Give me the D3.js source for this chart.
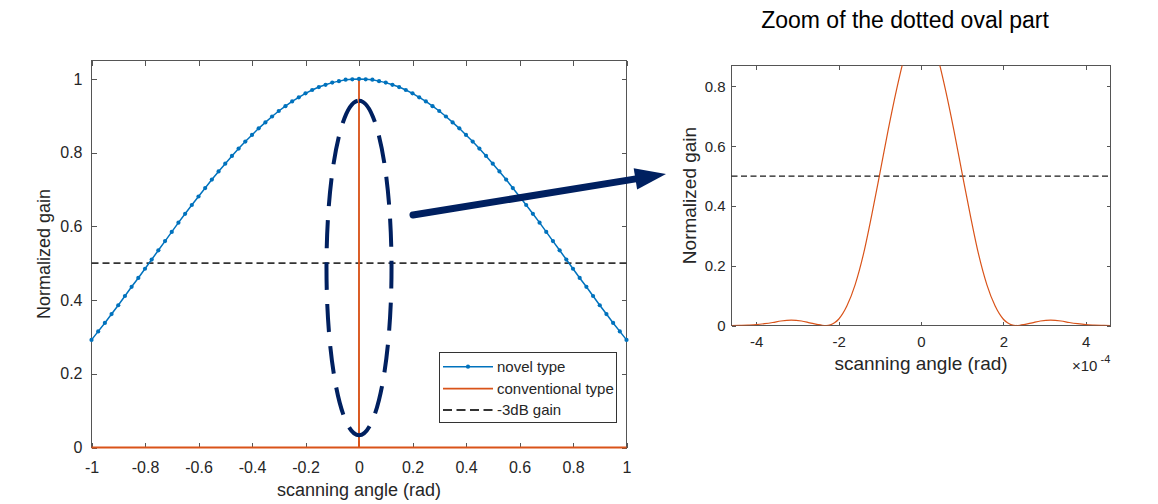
<!DOCTYPE html>
<html><head><meta charset="utf-8">
<script src="https://cdn.jsdelivr.net/npm/d3@7"></script>
<style>
body{margin:0;background:#fff;}
svg{display:block;font-family:"Liberation Sans",Arial,Helvetica,sans-serif;}
</style></head><body>
<svg id="chart" width="1158" height="504"></svg>
<script>
// ---------------- data ----------------
const novelAngle = d3.range(81).map(i => -1 + i * 0.025); // rad, sampling grid of the markers
const novelGain = [
  0.292,0.315,0.338,0.362,0.386,0.411,0.436,0.460,0.485,0.510,
  0.535,0.560,0.585,0.610,0.634,0.658,0.681,0.704,0.727,0.749,
  0.770,0.791,0.811,0.830,0.848,0.866,0.882,0.898,0.913,0.926,
  0.939,0.950,0.961,0.970,0.978,0.984,0.990,0.994,0.998,0.999,
  1.000,
  0.999,0.998,0.994,0.990,0.984,0.978,0.970,0.961,0.950,0.939,
  0.926,0.913,0.898,0.882,0.866,0.848,0.830,0.811,0.791,0.770,
  0.749,0.727,0.704,0.681,0.658,0.634,0.610,0.585,0.560,0.535,
  0.510,0.485,0.460,0.436,0.411,0.386,0.362,0.338,0.315,0.292
];
// conventional type, angle in units of 1e-4 rad
const convAngle = [-4.6,-4.4,-4.2,-4.0,-3.8,-3.6,-3.4,-3.15,-2.9,-2.7,-2.5,-2.4,-2.3,-2.2,-2.1,-2.0,-1.8,-1.6,-1.4,-1.2,-1.0,-0.8,-0.6,-0.4,-0.2,0,
                   0.2,0.4,0.6,0.8,1.0,1.2,1.4,1.6,1.8,2.0,2.1,2.2,2.3,2.4,2.5,2.7,2.9,3.15,3.4,3.6,3.8,4.0,4.2,4.4,4.6];
const convGain  = [0,0.0005,0.0015,0.003,0.006,0.010,0.015,0.018,0.015,0.009,0.003,0.0008,0,0.002,0.009,0.021,0.065,0.136,0.237,0.367,0.508,0.652,0.785,0.900,0.975,1.0,
                   0.975,0.900,0.785,0.652,0.508,0.367,0.237,0.136,0.065,0.021,0.009,0.002,0,0.0008,0.003,0.009,0.015,0.018,0.015,0.010,0.006,0.003,0.0015,0.0005,0];
const leftXTicks  = [-1,-0.8,-0.6,-0.4,-0.2,0,0.2,0.4,0.6,0.8,1];
const leftYTicks  = [0,0.2,0.4,0.6,0.8,1];
const rightXTicks = [-4,-2,0,2,4];      // ×1e-4
const rightYTicks = [0,0.2,0.4,0.6,0.8];
const halfPowerGain = 0.5;
const legendLabels = ["novel type","conventional type","-3dB gain"];
const xLabel = "scanning angle (rad)";
const yLabel = "Normalized gain";
const titleText = "Zoom of the dotted oval part";
// dotted oval (in left-plot data units)
const oval = {cx: 0, cy: 0.487, rx: 0.1215, ry: 0.454};

// ---------------- styles ----------------
const BLUE = "#0072BD", ORANGE = "#D95319", NAVY = "#002060", AX = "#555555", TXT = "#262626";
const svg = d3.select("#chart");

function axesFrame(g, x, y, xt, yt, xfmt, tickFont, padX, padY, tickLen) {
  const [xa, xb] = x.range(), [ya, yb] = y.range();
  const style = sel => {
    sel.select(".domain").remove();
    sel.attr("font-family", null).attr("font-size", tickFont);
    sel.selectAll(".tick line").attr("stroke", AX).attr("shape-rendering", "crispEdges");
    sel.selectAll(".tick text").attr("fill", TXT);
  };
  g.append("g").attr("transform", `translate(0,${ya})`)
    .call(d3.axisBottom(x).tickValues(xt).tickSize(-tickLen).tickSizeOuter(0).tickPadding(padX).tickFormat(xfmt)).call(style);
  g.append("g").attr("transform", `translate(0,${yb})`)
    .call(d3.axisTop(x).tickValues(xt).tickSize(-tickLen).tickSizeOuter(0).tickFormat("")).call(style);
  g.append("g").attr("transform", `translate(${xa},0)`)
    .call(d3.axisLeft(y).tickValues(yt).tickSize(-tickLen).tickSizeOuter(0).tickPadding(padY).tickFormat(d => String(d))).call(style);
  g.append("g").attr("transform", `translate(${xb},0)`)
    .call(d3.axisRight(y).tickValues(yt).tickSize(-tickLen).tickSizeOuter(0).tickFormat("")).call(style);
  g.append("rect").attr("x", xa).attr("y", yb).attr("width", xb - xa).attr("height", ya - yb)
    .attr("fill", "none").attr("stroke", AX).attr("stroke-width", 1).attr("shape-rendering", "crispEdges");
}

// ---------------- left plot ----------------
const xL = d3.scaleLinear().domain([-1, 1]).range([91.5, 626.5]);
const yL = d3.scaleLinear().domain([0, 1.05]).range([447.5, 60.5]);
const gL = svg.append("g");
axesFrame(gL, xL, yL, leftXTicks, leftYTicks, d => String(d), 16, 14.5, 9, 5);

// -3dB line
gL.append("line").attr("x1", xL(-1)).attr("x2", xL(1)).attr("y1", yL(halfPowerGain)).attr("y2", yL(halfPowerGain))
  .attr("stroke", "#333").attr("stroke-width", 1.8).attr("stroke-dasharray", "7,4");

// conventional type (spike on this scale)
const convLeft = [[-1, 0]].concat(convAngle.map((a, i) => [a * 1e-4, convGain[i]])).concat([[1, 0]]);
gL.append("path").datum(convLeft)
  .attr("d", d3.line().x(d => xL(d[0])).y(d => yL(d[1])))
  .attr("fill", "none").attr("stroke", ORANGE).attr("stroke-width", 1.8);

// novel type
const novel = novelAngle.map((a, i) => [a, novelGain[i]]);
gL.append("path").datum(novel)
  .attr("d", d3.line().x(d => xL(d[0])).y(d => yL(d[1])))
  .attr("fill", "none").attr("stroke", BLUE).attr("stroke-width", 1.5);
gL.selectAll("circle.nv").data(novel).join("circle").attr("class", "nv")
  .attr("cx", d => xL(d[0])).attr("cy", d => yL(d[1])).attr("r", 2.1).attr("fill", BLUE);

// labels
gL.append("text").attr("x", (xL(-1) + xL(1)) / 2).attr("y", 496).attr("text-anchor", "middle")
  .attr("font-size", 18).attr("fill", TXT).text(xLabel);
gL.append("text").attr("transform", `translate(50,${(yL(0) + yL(1.05)) / 2}) rotate(-90)`).attr("text-anchor", "middle")
  .attr("font-size", 18).attr("fill", TXT).text(yLabel);

// legend
const lg = gL.append("g");
lg.append("rect").attr("x", 439.5).attr("y", 352.5).attr("width", 176.5).attr("height", 69.5)
  .attr("fill", "#fff").attr("stroke", "#333").attr("stroke-width", 1).attr("shape-rendering", "crispEdges");
const rowsY = [366.7, 388.7, 410];
legendLabels.forEach((lab, i) => {
  const yy = rowsY[i];
  const ln = lg.append("line").attr("x1", 443).attr("x2", 493).attr("y1", yy).attr("y2", yy);
  if (i === 0) {
    ln.attr("stroke", BLUE).attr("stroke-width", 1.5);
    lg.append("circle").attr("cx", 468).attr("cy", yy).attr("r", 2.1).attr("fill", BLUE);
  } else if (i === 1) {
    ln.attr("stroke", ORANGE).attr("stroke-width", 1.8);
  } else {
    ln.attr("stroke", "#333").attr("stroke-width", 1.8).attr("stroke-dasharray", "9,4.5");
  }
  lg.append("text").attr("x", 497).attr("y", yy + 5.3).attr("font-size", 15).attr("fill", TXT).text(lab);
});

// dotted oval annotation
const ox = xL(oval.cx), oy = yL(oval.cy), orx = xL(oval.rx) - xL(0), ory = yL(0) - yL(oval.ry);
gL.append("path")
  .attr("d", `M${ox},${oy - ory} A${orx},${ory} 0 1 1 ${ox},${oy + ory} A${orx},${ory} 0 1 1 ${ox},${oy - ory}`)
  .attr("fill", "none").attr("stroke", NAVY).attr("stroke-width", 4).attr("stroke-dasharray", "28,14");

// arrow
const a0 = [413, 215], tip = [666, 174];
const dx = tip[0] - a0[0], dy = tip[1] - a0[1], len = Math.hypot(dx, dy), ux = dx / len, uy = dy / len;
const headLen = 31, headHalf = 10.8;
const base = [tip[0] - ux * headLen, tip[1] - uy * headLen];
svg.append("line").attr("x1", a0[0]).attr("y1", a0[1]).attr("x2", base[0] + ux * 2).attr("y2", base[1] + uy * 2)
  .attr("stroke", NAVY).attr("stroke-width", 7).attr("stroke-linecap", "round");
svg.append("path").attr("d", `M${tip[0]},${tip[1]} L${base[0] - uy * headHalf},${base[1] + ux * headHalf} L${base[0] + uy * headHalf},${base[1] - ux * headHalf} Z`)
  .attr("fill", NAVY);

// ---------------- right plot ----------------
const xR = d3.scaleLinear().domain([-4.6e-4, 4.6e-4]).range([731.5, 1110.5]);
const yR = d3.scaleLinear().domain([0, 0.87]).range([325.5, 65.5]);
const gR = svg.append("g");
axesFrame(gR, xR, yR, rightXTicks.map(t => t * 1e-4), rightYTicks, d => String(Math.round(d * 1e4)), 15, 10.5, 6, 4);

svg.append("clipPath").attr("id", "clipR").append("rect")
  .attr("x", xR.range()[0]).attr("y", yR.range()[1]).attr("width", xR.range()[1] - xR.range()[0]).attr("height", yR.range()[0] - yR.range()[1]);

gR.append("line").attr("x1", xR.range()[0]).attr("x2", xR.range()[1]).attr("y1", yR(halfPowerGain)).attr("y2", yR(halfPowerGain))
  .attr("stroke", "#1a1a1a").attr("stroke-width", 1.3).attr("stroke-dasharray", "6,3.5");

gR.append("path").datum(convAngle.map((a, i) => [a * 1e-4, convGain[i]]))
  .attr("clip-path", "url(#clipR)")
  .attr("d", d3.line().x(d => xR(d[0])).y(d => yR(d[1])).curve(d3.curveMonotoneX))
  .attr("fill", "none").attr("stroke", ORANGE).attr("stroke-width", 1.2);

gR.append("text").attr("x", (xR.range()[0] + xR.range()[1]) / 2).attr("y", 370).attr("text-anchor", "middle")
  .attr("font-size", 19).attr("fill", TXT).text(xLabel);
gR.append("text").attr("transform", `translate(696,${(yR.range()[0] + yR.range()[1]) / 2}) rotate(-90)`).attr("text-anchor", "middle")
  .attr("font-size", 19).attr("fill", TXT).text(yLabel);
gR.append("text").attr("x", 1072).attr("y", 370.5).attr("font-size", 15).attr("fill", TXT).text("\u00d710");
gR.append("text").attr("x", 1100.5).attr("y", 363).attr("font-size", 11).attr("fill", TXT).text("-4");

svg.append("text").attr("x", 905).attr("y", 27.5).attr("text-anchor", "middle")
  .attr("font-size", 23).attr("fill", "#000").text(titleText);
</script>
</body></html>
